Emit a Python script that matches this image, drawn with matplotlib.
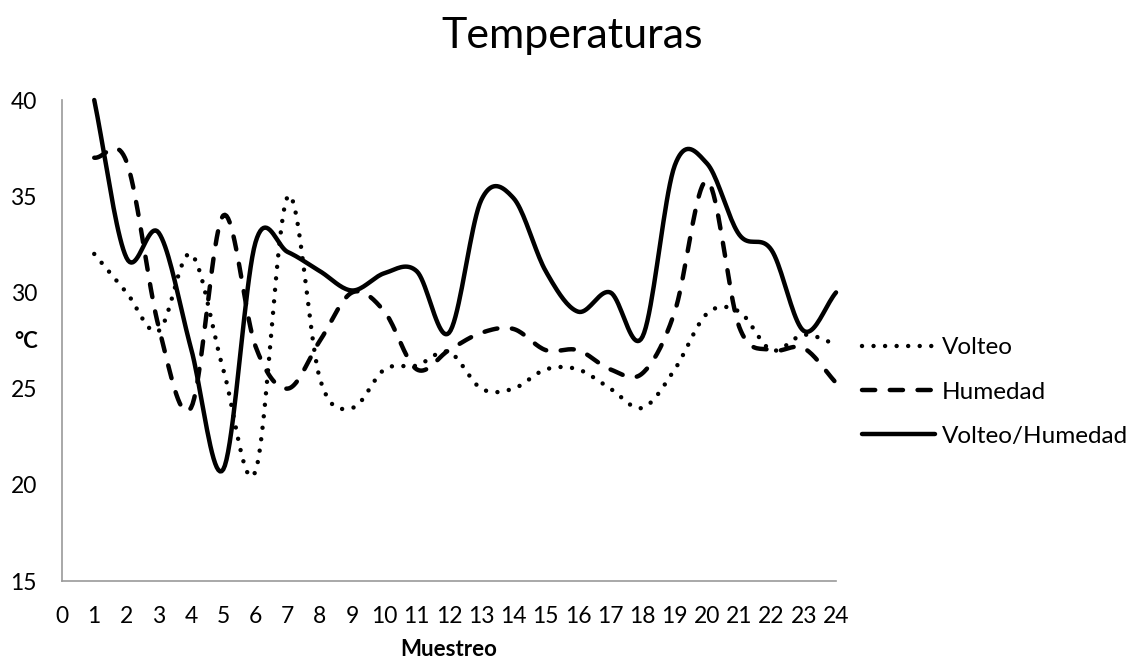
import numpy as np
import matplotlib
matplotlib.use("Agg")
import matplotlib.pyplot as plt

# datos
muestreo = list(range(1, 25))
volteo = [32, 30, 28, 32, 26, 20.7, 35, 25.5, 24, 26, 26.2, 26.9,
          25, 25, 26, 26, 25, 24, 26, 28.9, 29, 27, 27.8, 27.3]
humedad = [37, 36.8, 28.2, 24, 34, 27.2, 25, 27.5, 30, 29, 26, 27,
           27.9, 28.1, 27, 27, 26, 25.8, 29, 35.8, 28.2, 27, 27.1, 25.3]
volteo_humedad = [40, 31.8, 33.1, 27.1, 20.8, 32.6, 32.1, 31.1, 30.1, 31, 31.1, 27.9,
                  34.8, 34.9, 31.1, 29, 30, 27.7, 36.6, 36.7, 33, 32.2, 28, 30]
xticks = list(range(0, 25))
yticks = [15, 20, 25, 30, 35, 40]


def suavizar(x, y, n=20):
    # curva tipo "linea suavizada" de Excel (Catmull-Rom)
    x = np.asarray(x, float)
    y = np.asarray(y, float)
    px = np.concatenate([[2 * x[0] - x[1]], x, [2 * x[-1] - x[-2]]])
    py = np.concatenate([[2 * y[0] - y[1]], y, [2 * y[-1] - y[-2]]])
    t = np.linspace(0, 1, n, endpoint=False)
    xs, ys = [], []
    for i in range(1, len(px) - 2):
        for p, out in ((px, xs), (py, ys)):
            p0, p1, p2, p3 = p[i - 1], p[i], p[i + 1], p[i + 2]
            out.extend(0.5 * (2 * p1 + (-p0 + p2) * t
                              + (2 * p0 - 5 * p1 + 4 * p2 - p3) * t ** 2
                              + (-p0 + 3 * p1 - 3 * p2 + p3) * t ** 3))
    xs.append(x[-1])
    ys.append(y[-1])
    return np.array(xs), np.array(ys)


plt.rcParams['font.family'] = ['Lato', 'DejaVu Sans']
plt.rcParams['lines.scale_dashes'] = False

fig = plt.figure(figsize=(11.31, 6.65), dpi=100)
ax = fig.add_axes([0.0548, 0.1263, 0.6844, 0.7233])

lw = 3.2
xs, ys = suavizar(muestreo, volteo)
ax.plot(xs, ys, color='black', lw=lw, dashes=(0.01, 8.3),
        dash_capstyle='round', label='Volteo', clip_on=False)
xs, ys = suavizar(muestreo, humedad)
ax.plot(xs, ys, color='black', lw=lw, dashes=(9.5, 10.5),
        dash_capstyle='round', label='Humedad', clip_on=False)
xs, ys = suavizar(muestreo, volteo_humedad)
ax.plot(xs, ys, color='black', lw=lw, solid_capstyle='round',
        label='Volteo/Humedad', clip_on=False)

ax.set_xlim(0, 24)
ax.set_ylim(15, 40)
ax.set_xticks(xticks)
ax.set_yticks(yticks)
ax.tick_params(length=0, labelsize=16.5)
ax.tick_params(axis='x', pad=18)
ax.tick_params(axis='y', pad=18)
for s in ['top', 'right']:
    ax.spines[s].set_visible(False)
for s in ['left', 'bottom']:
    ax.spines[s].set_color('#999999')
    ax.spines[s].set_linewidth(1.2)

fig.text(572 / 1131, 1 - 48 / 665, 'Temperaturas', ha='center', va='baseline',
         fontsize=31)
fig.text(449 / 1131, 1 - 649 / 665, 'Muestreo', ha='center',
         va='center', fontsize=16, fontweight='bold')
fig.text(26 / 1131, 1 - 341 / 665, '°C', ha='center', va='center',
         fontsize=16, fontweight='bold')

ax.legend(loc='center left', bbox_to_anchor=(862 / 1131, 1 - 392 / 665),
          bbox_transform=fig.transFigure, frameon=False, fontsize=17.5,
          handlelength=3.0, handletextpad=0.3, labelspacing=0.95,
          borderaxespad=0, borderpad=0)

fig.savefig('out.png', dpi=100)
